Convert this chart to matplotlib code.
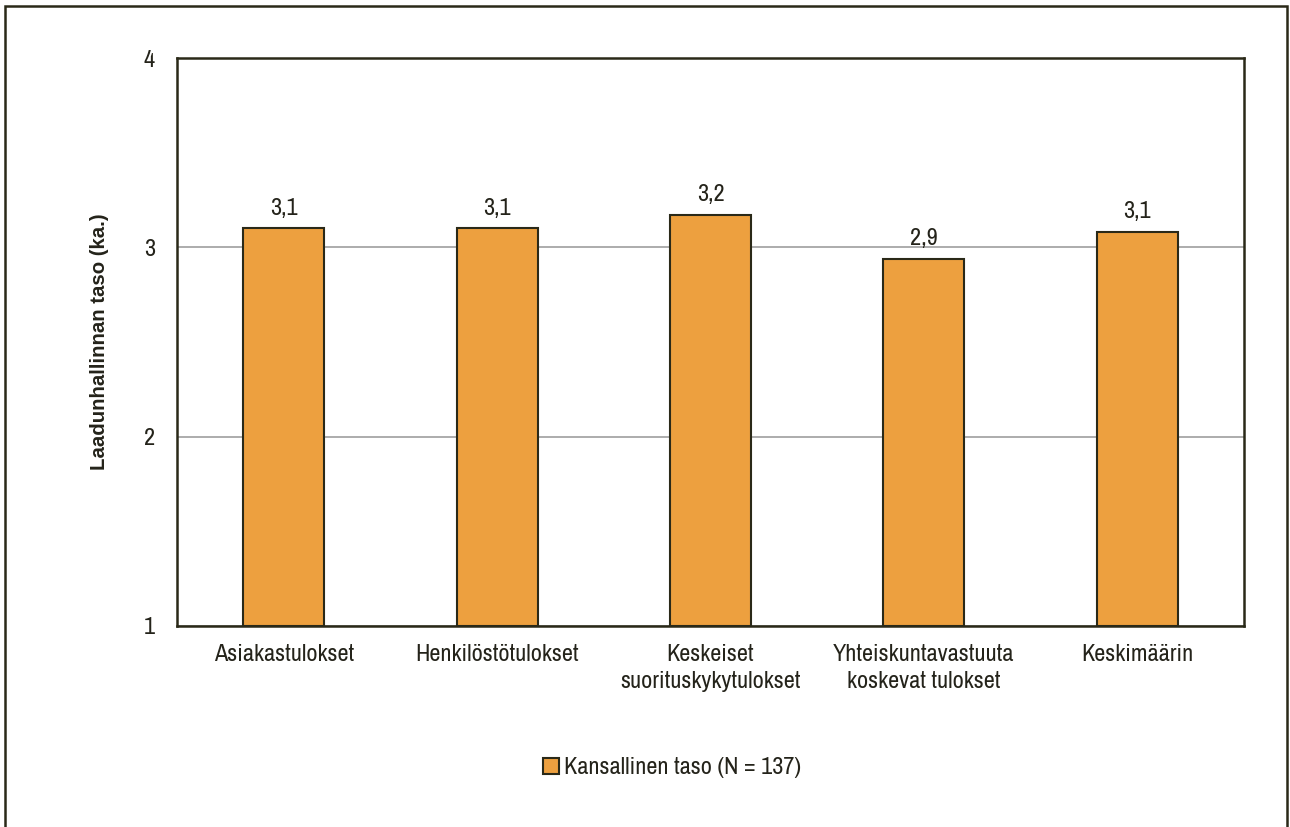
import matplotlib.pyplot as plt
from matplotlib.patches import Rectangle

plt.rcParams['font.family'] = ['Archivo Narrow', 'Liberation Sans', 'DejaVu Sans']

categories = ['Asiakastulokset', 'Henkilöstötulokset', 'Keskeiset\nsuorituskykytulokset',
              'Yhteiskuntavastuuta\nkoskevat tulokset', 'Keskimäärin']
values = [3.10, 3.10, 3.17, 2.94, 3.08]
series_name = 'Kansallinen taso (N = 137)'
ylabel = 'Laadunhallinnan taso (ka.)'

bar_color = '#EDA03F'
edge_color = '#2A2918'
text_color = '#24231A'
fsize = 17.5

fig = plt.figure(figsize=(12.9, 8.27), dpi=100)
ax = fig.add_axes([177/1290, 1 - 626/827, (1244-177)/1290, (626-58)/827])

x = range(len(categories))
ax.bar(x, [v - 1 for v in values], bottom=1, width=0.38,
       color=bar_color, edgecolor=edge_color, linewidth=1.5,
       label=series_name, zorder=3)

for xi, v in zip(x, values):
    ax.annotate(f'{v:.1f}'.replace('.', ','), (xi, v), xytext=(0, 7),
                textcoords='offset points', ha='center', va='bottom',
                fontsize=fsize, color=text_color)

ax.set_xlim(-0.5, len(categories) - 0.5)
ax.set_ylim(1, 4)
ax.set_yticks([1, 2, 3, 4])
ax.set_xticks(list(x))
ax.set_xticklabels(categories, fontsize=fsize, color=text_color, linespacing=1.35)
ax.tick_params(axis='y', labelsize=fsize, labelcolor=text_color, length=0, pad=16)
ax.tick_params(axis='x', length=0, pad=13)
ax.yaxis.grid(True, color='#A6A6A6', linewidth=1.3, zorder=0)

for s in ax.spines.values():
    s.set_color(edge_color)
    s.set_linewidth(1.8)

ax.set_ylabel(ylabel, fontsize=14.7, fontweight='bold', color=text_color,
              family=['Liberation Sans', 'DejaVu Sans'])
ax.yaxis.set_label_coords(-0.064, 0.5)

leg = fig.legend(loc='center', bbox_to_anchor=(672/1290, 1 - 768/827), frameon=False,
                 fontsize=fsize, handlelength=0.65, handleheight=0.65, handletextpad=0.2)
for t in leg.get_texts():
    t.set_color(text_color)

# outer frame, open at the bottom
fig.patches.append(Rectangle((5/1290, -0.05), (1287-5)/1290, 1.05 - 6/827,
                             transform=fig.transFigure, fill=False,
                             edgecolor=edge_color, linewidth=1.8))

fig.savefig('out.png', dpi=100)
